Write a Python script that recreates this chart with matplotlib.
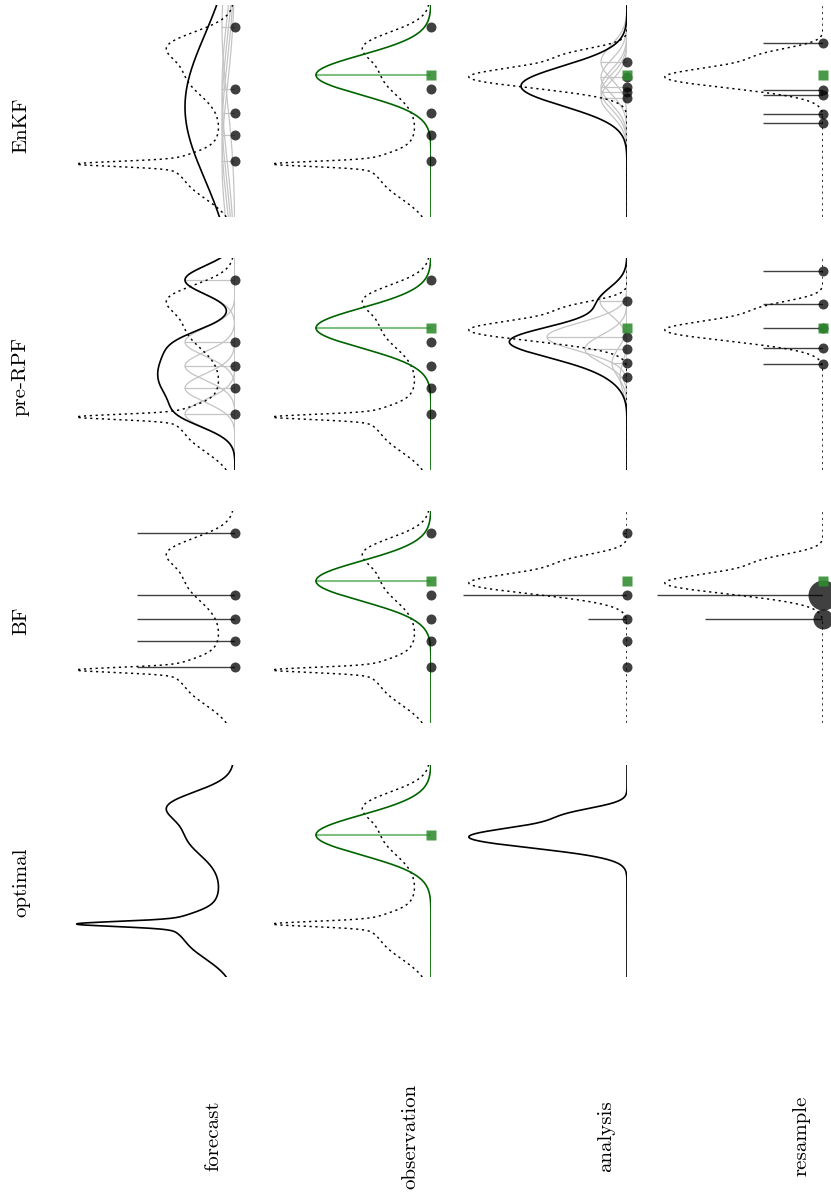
import numpy as np
import matplotlib
matplotlib.use("Agg")
import matplotlib.pyplot as plt

# ---------------- data (state axis 0..212, density in display units) ----------
STATE_MAX = 212.0

col_labels = ["optimal", "BF", "pre-RPF", "EnKF"]
row_labels = ["forecast", "observation", "analysis", "resample"]

# forecast density: mixture components (centre, spread, peak height)
forecast_centres = [105, 38, 53, 55, 140, 172]
forecast_spreads = [50, 20, 2.5, 8, 18, 14]
forecast_heights = [15, 43, 93, 25, 34, 54]

# observation likelihood
obs_value = 142
obs_spread = 20
obs_height = 115

# optimal analysis (posterior) density
posterior_centres = [140, 163]
posterior_spreads = [11, 7]
posterior_heights = [158, 45]

# forecast ensemble
forecast_particles = [190, 128, 104, 82, 56]

# bootstrap filter
bf_forecast_stems = [98, 98, 98, 98, 98]
bf_analysis_stems = [4, 164, 39, 0, 0]
bf_resample_positions = [128, 104]
bf_resample_counts = [3, 2]
bf_resample_stems = [166, 118]

# pre-RPF
rpf_kernel_spread = 14
rpf_forecast_kernel_height = 50
rpf_analysis_particles = [169, 133, 121, 107, 93]
rpf_analysis_heights = [27, 80, 42, 15, 7]
rpf_resample_particles = [199, 166, 142, 122, 106]

# EnKF
enkf_forecast_mean = 110
enkf_forecast_spread = 72
enkf_forecast_height = 50
enkf_forecast_kernel_height = 13
enkf_analysis_particles = [155, 140, 130, 125, 119]
enkf_analysis_mean = 131
enkf_analysis_spread = 20
enkf_analysis_height = 106
enkf_analysis_kernel_spread = 17
enkf_analysis_kernel_height = 26
enkf_resample_particles = [174, 127, 122, 103, 94]

resample_stem = 60

# ---------------- helpers ----------------
s = np.linspace(0, STATE_MAX, 800)


def gauss(c, w, h):
    return h * np.exp(-0.5 * ((s - c) / w) ** 2)


def mixture(cs, ws, hs):
    return sum(gauss(c, w, h) for c, w, h in zip(cs, ws, hs))


p_forecast = mixture(forecast_centres, forecast_spreads, forecast_heights)
p_post = mixture(posterior_centres, posterior_spreads, posterior_heights)
p_obs = gauss(obs_value, obs_spread, obs_height)

W, H = 831, 1194
fig = plt.figure(figsize=(W / 100, H / 100), dpi=100)

baselines = [235, 431, 627, 823]   # image x of zero density for each row
bottoms = [977, 723, 470, 217]     # image y of low state end for each column
DMAX = 170

DOT = dict(color="k", alpha=0.75, ms=7.2, mec="none", clip_on=False, zorder=6,
           ls="none", marker="o")
GREEN_SQ = dict(color="#2e8b2e", alpha=0.88, ms=7.8, mec="none", clip_on=False,
                zorder=7, ls="none", marker="s")
GRAY = dict(color="#c4c4c4", lw=0.9, zorder=2)
SOLID = dict(color="k", lw=1.2, zorder=4)
DOTTED = dict(color="k", lw=1.05, ls=(0, (1.5, 2.5)), zorder=3)


def make_ax(r, c):
    bx, by = baselines[r], bottoms[c]
    ax = fig.add_axes([(bx - DMAX) / W, (H - by) / H, DMAX / W, STATE_MAX / H])
    ax.set_xlim(DMAX, 0)
    ax.set_ylim(0, STATE_MAX)
    ax.axis("off")
    return ax


def dots(ax, pos):
    ax.plot(np.zeros(len(pos)), pos, **DOT)


def stems(ax, pos, lengths, **kw):
    opts = dict(color="k", alpha=0.75, lw=1.0, zorder=3)
    opts.update(kw)
    ax.hlines(pos, 0, lengths, **opts)


def obs_square(ax):
    ax.plot([0], [obs_value], **GREEN_SQ)


# ---------------- optimal column ----------------
ax = make_ax(0, 0)
ax.plot(p_forecast, s, **SOLID)

for c in range(4):
    ax = make_ax(1, c)
    ax.plot(p_forecast, s, **DOTTED)
    ax.plot(p_obs, s, color="#006400", lw=1.2, zorder=4)
    ax.plot([0, obs_height], [obs_value, obs_value], color="green", alpha=0.5,
            lw=1.5, zorder=3)
    obs_square(ax)
    if c > 0:
        dots(ax, forecast_particles)

ax = make_ax(2, 0)
ax.plot(p_post, s, **SOLID)

# ---------------- BF ----------------
ax = make_ax(0, 1)
ax.plot(p_forecast, s, **DOTTED)
stems(ax, forecast_particles, bf_forecast_stems)
dots(ax, forecast_particles)

ax = make_ax(2, 1)
ax.plot(p_post, s, **DOTTED)
stems(ax, forecast_particles, bf_analysis_stems)
obs_square(ax)
dots(ax, forecast_particles)

ax = make_ax(3, 1)
ax.plot(p_post, s, **DOTTED)
stems(ax, bf_resample_positions, bf_resample_stems)
obs_square(ax)
for p, n in zip(bf_resample_positions, bf_resample_counts):
    ax.plot([0], [p], **{**DOT, "ms": 7.2 * n})

# ---------------- pre-RPF ----------------
ax = make_ax(0, 2)
ax.plot(p_forecast, s, **DOTTED)
tot = np.zeros_like(s)
for p in forecast_particles:
    k = gauss(p, rpf_kernel_spread, rpf_forecast_kernel_height)
    tot += k
    ax.plot(k, s, **GRAY)
    ax.plot([0, rpf_forecast_kernel_height], [p, p], **GRAY)
ax.plot(tot, s, **SOLID)
dots(ax, forecast_particles)

ax = make_ax(2, 2)
ax.plot(p_post, s, **DOTTED)
tot = np.zeros_like(s)
for p, h in zip(rpf_analysis_particles, rpf_analysis_heights):
    k = gauss(p, rpf_kernel_spread, h)
    tot += k
    ax.plot(k, s, **GRAY)
    ax.plot([0, h], [p, p], **GRAY)
ax.plot(tot, s, **SOLID)
obs_square(ax)
dots(ax, rpf_analysis_particles)

ax = make_ax(3, 2)
ax.plot(p_post, s, **DOTTED)
stems(ax, rpf_resample_particles, [resample_stem] * 5)
obs_square(ax)
dots(ax, rpf_resample_particles)

# ---------------- EnKF ----------------
ax = make_ax(0, 3)
ax.plot(p_forecast, s, **DOTTED)
for p in forecast_particles:
    ax.plot(gauss(p, enkf_forecast_spread, enkf_forecast_kernel_height), s, **GRAY)
    ax.plot([0, enkf_forecast_kernel_height], [p, p], **GRAY)
ax.plot(gauss(enkf_forecast_mean, enkf_forecast_spread, enkf_forecast_height), s,
        **SOLID)
dots(ax, forecast_particles)

ax = make_ax(2, 3)
ax.plot(p_post, s, **DOTTED)
for p in enkf_analysis_particles:
    ax.plot(gauss(p, enkf_analysis_kernel_spread, enkf_analysis_kernel_height), s,
            **GRAY)
    ax.plot([0, enkf_analysis_kernel_height], [p, p], **GRAY)
ax.plot(gauss(enkf_analysis_mean, enkf_analysis_spread, enkf_analysis_height), s,
        **SOLID)
obs_square(ax)
dots(ax, enkf_analysis_particles)

ax = make_ax(3, 3)
ax.plot(p_post, s, **DOTTED)
stems(ax, enkf_resample_particles, [resample_stem] * 5)
obs_square(ax)
dots(ax, enkf_resample_particles)

# ---------------- labels ----------------
col_label_y = [882, 621, 376, 125]
for lab, y in zip(col_labels, col_label_y):
    fig.text(21 / W, 1 - y / H, lab, rotation=90, ha="center", va="center",
             fontsize=15, family="cmr10")
row_label_x = [213, 410, 606, 802]
for lab, x in zip(row_labels, row_label_x):
    fig.text(x / W, 1 - 1136 / H, lab, rotation=90, ha="center", va="center",
             fontsize=15, family="cmr10")

fig.savefig("out.png", dpi=100)
